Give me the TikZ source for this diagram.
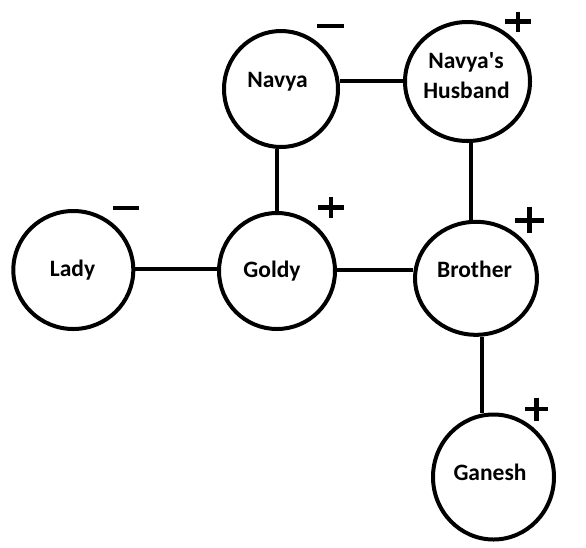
\documentclass[tikz,border=0pt]{standalone}
\usepackage{fontspec}
\setmainfont{Carlito}[Ligatures=TeXOff]
\usetikzlibrary{shapes.geometric}
\tikzset{
  person/.style={ellipse, draw=black, line width=4pt, inner sep=0pt},
  lbl/.style={anchor=base, inner sep=0pt, font=\bfseries\fontsize{23.5}{30}\selectfont, text=black},
  link/.style={line width=4pt},
  sign/.style={line width=4.5pt}
}
\begin{document}
\begin{tikzpicture}[x=1pt,y=-1pt]
\useasboundingbox (0,0) rectangle (586,547);
% circles
\node[person, minimum width=114pt, minimum height=116pt] (navya) at (281,89) {};
\node[person, minimum width=125pt, minimum height=119pt] (husband) at (467.5,81.5) {};
\node[person, minimum width=120pt, minimum height=118pt] (lady) at (73.3,270) {};
\node[person, minimum width=116pt, minimum height=116pt] (goldy) at (277,271) {};
\node[person, minimum width=122pt, minimum height=113pt] (brother) at (476,278.3) {};
\node[person, minimum width=121pt, minimum height=125pt] (ganesh) at (493.5,477) {};
% labels
\node[lbl] (navyaT) at (277.5,87.3) {Navya};
\node[lbl] (husbandT1) at (466,68) {Navya's};
\node[lbl] (husbandT2) at (466.5,98) {Husband};
\node[lbl] (ladyT) at (72.5,276) {Lady};
\node[lbl] (goldyT) at (272,277.3) {Goldy};
\node[lbl] (brotherT) at (474.5,277.7) {Brother};
\node[lbl] (ganeshT) at (490,480.7) {Ganesh};
% connectors
\draw[link] (navya.east |- 0,81) -- (husband.west |- 0,81);
\draw[link] (navya.south -| 277,0) -- (goldy.north -| 277,0);
\draw[link] (husband.south -| 470.5,0) -- (brother.north -| 470.5,0);
\draw[link] (lady.east |- 0,269) -- (goldy.west |- 0,269);
\draw[link] (goldy.east |- 0,270) -- (brother.west |- 0,270);
\draw[link] (brother.south -| 482,0) -- (ganesh.north -| 482,0);
% signs
\draw[sign] (317,26) -- (344,26);
\draw[sign] (113,208) -- (139,208);
\draw[sign] (505,21.7) -- (531,21.7) (518,11.7) -- (518,32.3);
\draw[sign] (318,207.3) -- (344,207.3) (331,197) -- (331,218);
\draw[sign] (515,220.7) -- (544,220.7) (529.5,206.7) -- (529.5,233);
\draw[sign] (525,409) -- (548,409) (536.5,397.7) -- (536.5,420.7);
\end{tikzpicture}
\end{document}
